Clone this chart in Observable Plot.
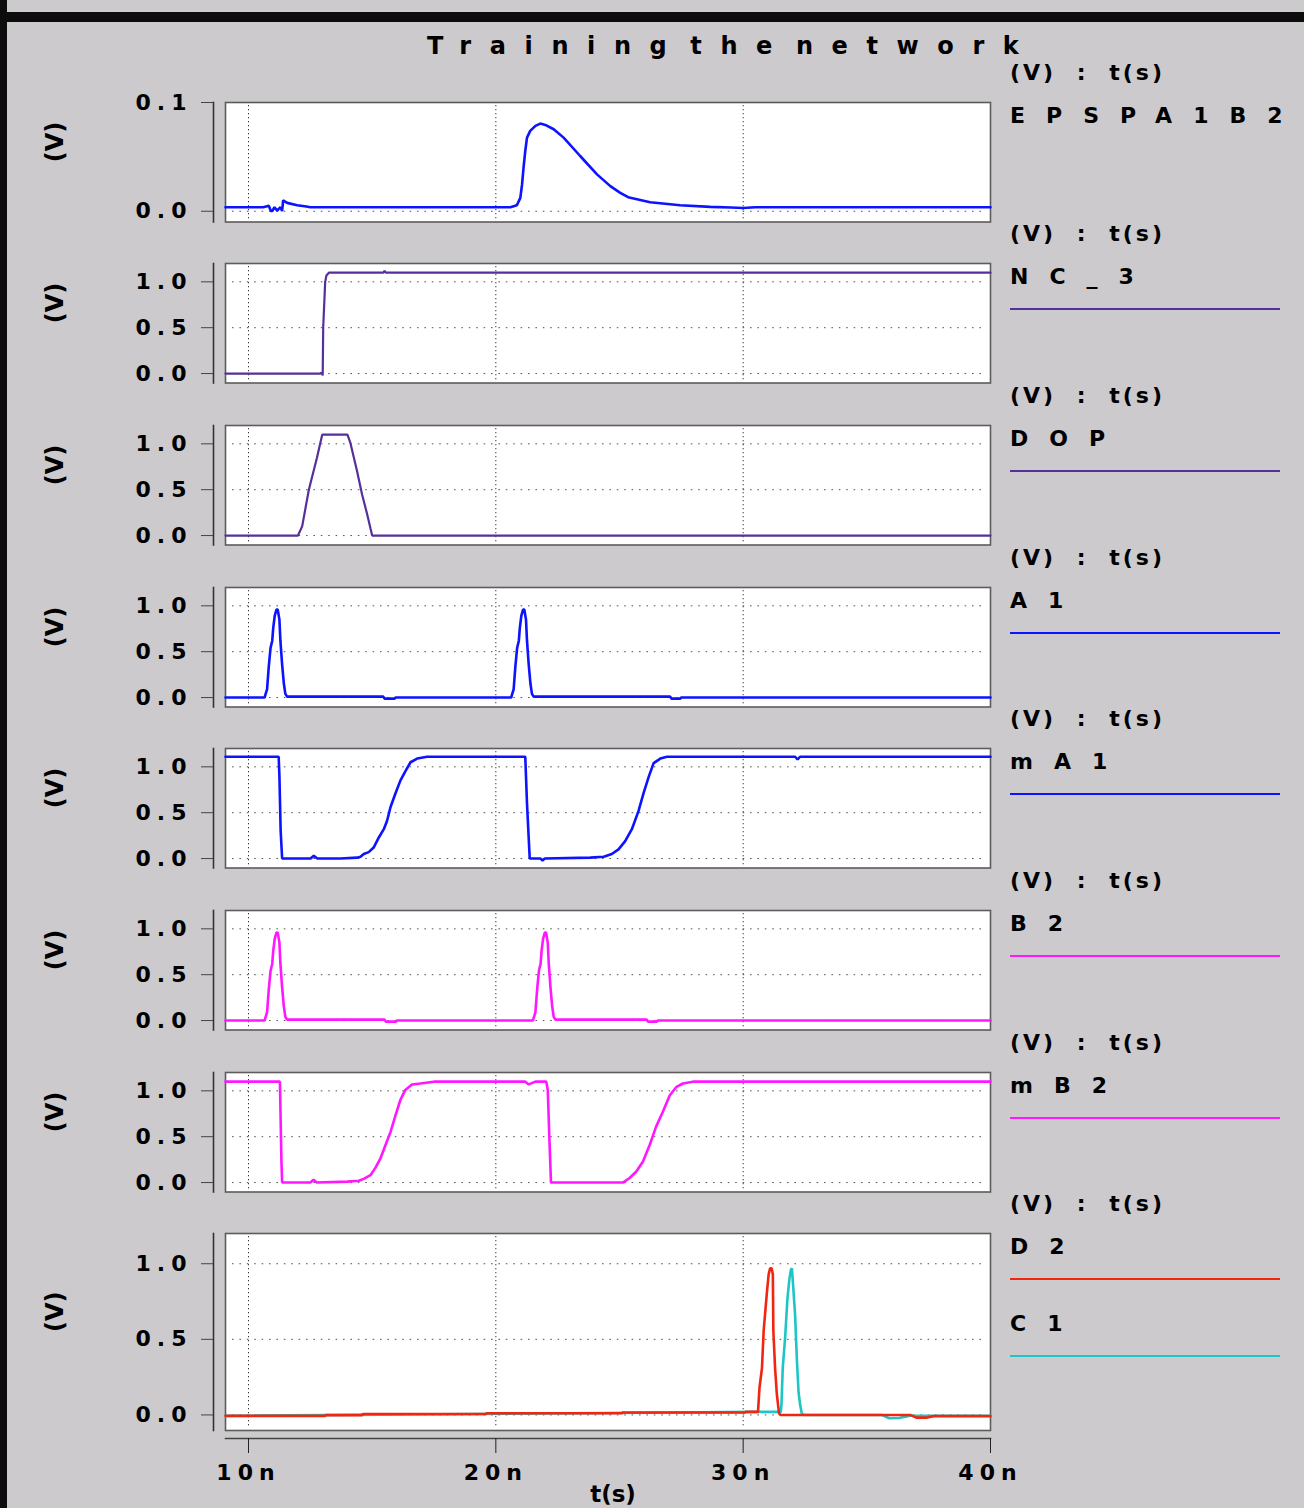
<!DOCTYPE html>
<html><head><meta charset="utf-8">
<script src="https://cdn.jsdelivr.net/npm/d3@7"></script>
<script src="https://cdn.jsdelivr.net/npm/@observablehq/plot@0.6"></script>
<style>
html,body{margin:0;padding:0;background:#cccacd;}
#root{position:relative;width:1304px;height:1508px;background:#cccacd;overflow:hidden;font-family:"DejaVu Sans",sans-serif;font-weight:bold;color:#000;}
.panel{position:absolute;left:0;}
.leg{position:absolute;left:1010px;font-size:22px;line-height:24px;white-space:nowrap;}
.leghdr{letter-spacing:3px;word-spacing:10px;}
.legname{letter-spacing:21px;}
.legline{position:absolute;left:1010px;width:270px;height:2px;}
#title{position:absolute;left:427px;top:32px;font-size:24px;line-height:28px;letter-spacing:18.6px;word-spacing:-22px;white-space:nowrap;}
.bar{position:absolute;background:#0c0c0c;}
</style>
</head><body>
<div id="root">
  <div class="bar" style="left:0;top:12px;width:1304px;height:10px;"></div>
  <div class="bar" style="left:0;top:0;width:7px;height:1508px;"></div>
  <div id="title">Training the network</div>
</div>
<script>
// ---------- data (time in ns, value in V) ----------
const xTicks = [10, 20, 30, 40];
const xGrid = [10, 20, 30];
const yTicksSmall = [0, 0.1];
const yTicks = [0, 0.5, 1];

const epspT = [9.07,10.6,10.82,10.9,10.96,11.05,11.16,11.29,11.36,11.4,11.56,11.97,12.34,12.5,20.59,20.85,20.99,21.06,21.12,21.19,21.26,21.39,21.6,21.8,22.0,22.34,22.74,23.41,24.09,24.63,25.03,25.35,26.24,27.45,28.67,29.5,30.0,30.5,40];
const epspV = [0.0037,0.0037,0.005,0.0004,0.0,0.0037,0.0006,0.0037,0.0002,0.0099,0.0077,0.0055,0.0043,0.0037,0.0037,0.0055,0.0123,0.0246,0.040,0.0554,0.0677,0.0739,0.0785,0.0806,0.0794,0.0754,0.0677,0.0508,0.0339,0.0231,0.0169,0.0129,0.0083,0.0055,0.004,0.0035,0.003,0.0037,0.0037];

const nc3T = [9.07,12.9,12.95,13.0,13.02,13.1,13.15,13.25,15.45,15.5,15.55,40];
const nc3V = [0,0,0.01,-0.02,0.5,1.0,1.07,1.1,1.1,1.12,1.1,1.1];

const dopT = [9.07,12.0,12.17,12.44,12.77,12.98,14.0,14.12,14.39,14.59,14.8,14.93,15.0,40];
const dopV = [0,0,0.1,0.5,0.85,1.1,1.1,1.01,0.70,0.45,0.23,0.08,0,0];

const a1T = [9.07,10.65,10.69,10.75,10.82,10.89,10.96,11.0,11.06,11.13,11.18,11.25,11.29,11.36,11.43,11.49,11.56,15.45,15.5,15.9,15.95,20.62,20.66,20.72,20.79,20.86,20.93,20.97,21.03,21.1,21.15,21.22,21.26,21.33,21.4,21.46,21.53,27.05,27.1,27.45,27.5,40];
const a1V = [0,0,0.037,0.09,0.34,0.54,0.62,0.76,0.89,0.96,0.96,0.85,0.62,0.36,0.15,0.04,0.01,0.01,-0.012,-0.012,0,0,0.037,0.09,0.34,0.54,0.62,0.76,0.89,0.96,0.96,0.85,0.62,0.36,0.15,0.04,0.01,0.01,-0.012,-0.012,0,0];

const ma1T = [9.07,11.22,11.25,11.3,11.36,12.51,12.64,12.78,13.72,14.39,14.53,14.66,14.86,15.06,15.27,15.47,15.6,15.74,15.94,16.14,16.34,16.55,16.82,17.22,21.19,21.26,21.37,21.8,21.89,21.98,23.82,24.36,24.69,24.96,25.23,25.5,25.77,25.97,26.18,26.38,26.65,26.92,32.1,32.2,32.3,40];
const ma1V = [1.11,1.11,0.9,0.3,0.0,0.0,0.03,0.0,0.0,0.01,0.02,0.05,0.07,0.12,0.23,0.32,0.41,0.56,0.71,0.85,0.95,1.05,1.09,1.11,1.11,0.6,0.0,0.0,-0.02,0.0,0.01,0.02,0.05,0.1,0.19,0.32,0.52,0.71,0.89,1.04,1.09,1.11,1.11,1.08,1.11,1.11];

const b2T = [9.07,10.65,10.69,10.75,10.82,10.89,10.96,11.0,11.06,11.13,11.18,11.25,11.29,11.36,11.43,11.49,11.56,15.5,15.55,15.95,16.0,21.5,21.54,21.6,21.67,21.74,21.81,21.85,21.91,21.98,22.03,22.1,22.14,22.21,22.28,22.34,22.41,26.1,26.15,26.5,26.55,40];
const b2V = [0,0,0.037,0.09,0.34,0.54,0.62,0.76,0.89,0.96,0.96,0.85,0.62,0.36,0.15,0.04,0.01,0.01,-0.012,-0.012,0,0,0.037,0.09,0.34,0.54,0.62,0.76,0.89,0.96,0.96,0.85,0.62,0.36,0.15,0.04,0.01,0.01,-0.012,-0.012,0,0];

const mb2T = [9.07,11.27,11.33,11.36,12.5,12.63,12.76,13.99,14.46,14.66,14.93,15.13,15.33,15.54,15.74,15.94,16.14,16.34,16.61,16.95,17.49,21.19,21.33,21.6,22.04,22.1,22.16,22.23,25.14,25.41,25.68,25.95,26.22,26.48,26.75,27.03,27.29,27.56,27.97,40];
const mb2V = [1.10,1.10,0.25,0.0,0.0,0.03,0.0,0.01,0.02,0.04,0.08,0.16,0.26,0.41,0.55,0.73,0.90,1.01,1.07,1.08,1.10,1.10,1.07,1.10,1.10,1.01,0.52,0.0,0.0,0.05,0.12,0.23,0.41,0.61,0.77,0.95,1.04,1.08,1.10,1.10];

const d2T = [9.07,13.1,13.12,14.6,14.62,19.6,19.62,25.1,25.12,30.08,30.1,30.6,30.66,30.76,30.83,30.96,31.03,31.09,31.15,31.2,31.22,31.29,31.36,31.45,31.52,36.75,37.0,37.4,37.7,40];
const d2V = [-0.006,-0.006,-0.001,-0.001,0.006,0.006,0.011,0.011,0.016,0.016,0.02,0.02,0.18,0.31,0.56,0.81,0.93,0.97,0.97,0.93,0.56,0.31,0.14,0.01,0.0,0.0,-0.018,-0.018,-0.008,-0.008];

const c1T = [9.07,30.6,31.52,31.55,31.6,31.7,31.79,31.87,31.93,31.97,32.01,32.1,32.17,32.24,32.3,32.37,32.45,35.6,35.9,36.3,36.75,37.5,40];
const c1V = [-0.006,0.02,0.02,0.07,0.31,0.52,0.77,0.9,0.96,0.97,0.88,0.66,0.37,0.15,0.07,0.01,0.0,0.0,-0.022,-0.02,-0.005,-0.005,-0.005];

// ---------- colours ----------
const BLUE = "#0d12ff", PURPLE = "#55309a", MAGENTA = "#ff18ff", RED = "#f2260e", CYAN = "#1dc6c6";

const panels = [
  {dom:[-0.0099,0.1], ticks:yTicksSmall, traces:[{t:epspT,v:epspV,c:BLUE}], legend:[{n:"EPSPA1B2",c:null}]},
  {dom:[-0.103,1.2], ticks:yTicks, traces:[{t:nc3T,v:nc3V,c:PURPLE,w:2.2}], legend:[{n:"NC_3",c:PURPLE}]},
  {dom:[-0.103,1.2], ticks:yTicks, traces:[{t:dopT,v:dopV,c:PURPLE,w:2.2}], legend:[{n:"DOP",c:PURPLE}]},
  {dom:[-0.103,1.2], ticks:yTicks, traces:[{t:a1T,v:a1V,c:BLUE}], legend:[{n:"A1",c:BLUE}]},
  {dom:[-0.103,1.2], ticks:yTicks, traces:[{t:ma1T,v:ma1V,c:BLUE}], legend:[{n:"mA1",c:BLUE}]},
  {dom:[-0.103,1.2], ticks:yTicks, traces:[{t:b2T,v:b2V,c:MAGENTA}], legend:[{n:"B2",c:MAGENTA}]},
  {dom:[-0.103,1.2], ticks:yTicks, traces:[{t:mb2T,v:mb2V,c:MAGENTA}], legend:[{n:"mB2",c:MAGENTA}]},
  {dom:[-0.103,1.2], ticks:yTicks, traces:[{t:c1T,v:c1V,c:CYAN},{t:d2T,v:d2V,c:RED}], legend:[{n:"D2",c:RED},{n:"C1",c:CYAN}]}
];

const rowsOf = tr => tr.t.map((t, i) => ({t, v: tr.v[i]}));

const root = document.getElementById("root");
const W = 1000, ML = 225, MR = 10;
const TOP0 = 101.7, STRIDE = 161.67, H = 119.5, HLAST = 197;

panels.forEach((p, i) => {
  const T = TOP0 + i * STRIDE;
  const last = i === panels.length - 1;
  const h = last ? HLAST : H;
  const mt = 20;
  const mb = last ? Math.round(1508 - (T + h)) : 20;
  const marks = [
    Plot.frame({fill: "white", stroke: "#5c5c5c", strokeWidth: 1.6}),
    Plot.ruleX(xGrid, {stroke: "#3a3a3a", strokeDasharray: "1.3,2.7", insetTop: 3, insetBottom: 3}),
    Plot.ruleY(p.ticks, {stroke: "#555", strokeDasharray: "1.6,5.8", insetLeft: 7, insetRight: 5}),
    ...p.traces.map(tr => Plot.line(rowsOf(tr), {x: "t", y: "v", stroke: tr.c, strokeWidth: tr.w || 2.6, strokeLinejoin: "miter"})),
    Plot.frame({anchor: "left", dx: -12, stroke: "#333", strokeWidth: 1.6}),
    Plot.axisY(p.ticks, {tickSize: 12, tickPadding: 9, dx: -12, tickFormat: d3.format(".1f"), stroke: "#444", label: null}),
    Plot.text(["(V)"], {text: d => d, frameAnchor: "left", dx: -170, rotate: -90, fontSize: 24, fontWeight: "bold"})
  ];
  if (last) {
    marks.push(
      Plot.frame({anchor: "bottom", dy: 8, stroke: "#444", strokeWidth: 1.6}),
      Plot.axisX(xTicks, {tickSize: 15, dy: 8, tickPadding: 11, tickFormat: d => d + "n", stroke: "#222", label: null}),
      Plot.text(["t(s)"], {text: d => d, frameAnchor: "bottom", dy: 71, dx: 5, fontSize: 23, fontWeight: "bold"})
    );
  }
  const svg = Plot.plot({
    width: W, height: mt + h + mb,
    marginLeft: ML, marginRight: MR, marginTop: mt, marginBottom: mb,
    x: {domain: [9.07, 40], axis: last ? undefined : null},
    y: {domain: p.dom},
    style: {background: "transparent", fontSize: "22px", fontWeight: "bold", fontFamily: "DejaVu Sans, sans-serif", color: "#000", overflow: "visible"},
    marks
  });
  svg.classList.add("panel");
  svg.style.top = (T - mt) + "px";
  d3.select(svg).selectAll('g[aria-label="y-axis tick label"] text, g[aria-label="x-axis tick label"] text').style("letter-spacing", "6px");
  root.appendChild(svg);

  // legend beside the panel
  const hdr = document.createElement("div");
  hdr.className = "leg leghdr";
  hdr.style.top = (T - 29 - 12) + "px";
  hdr.textContent = "(V) : t(s)";
  root.appendChild(hdr);
  p.legend.forEach((l, k) => {
    const nm = document.createElement("div");
    nm.className = "leg legname";
    nm.style.top = (T + 14 + k * 77 - 12) + "px";
    nm.textContent = l.n;
    root.appendChild(nm);
    if (l.c) {
      const ln = document.createElement("div");
      ln.className = "legline";
      ln.style.top = (T + 45 + k * 77) + "px";
      ln.style.background = l.c;
      root.appendChild(ln);
    }
  });
});
</script>
</body></html>
